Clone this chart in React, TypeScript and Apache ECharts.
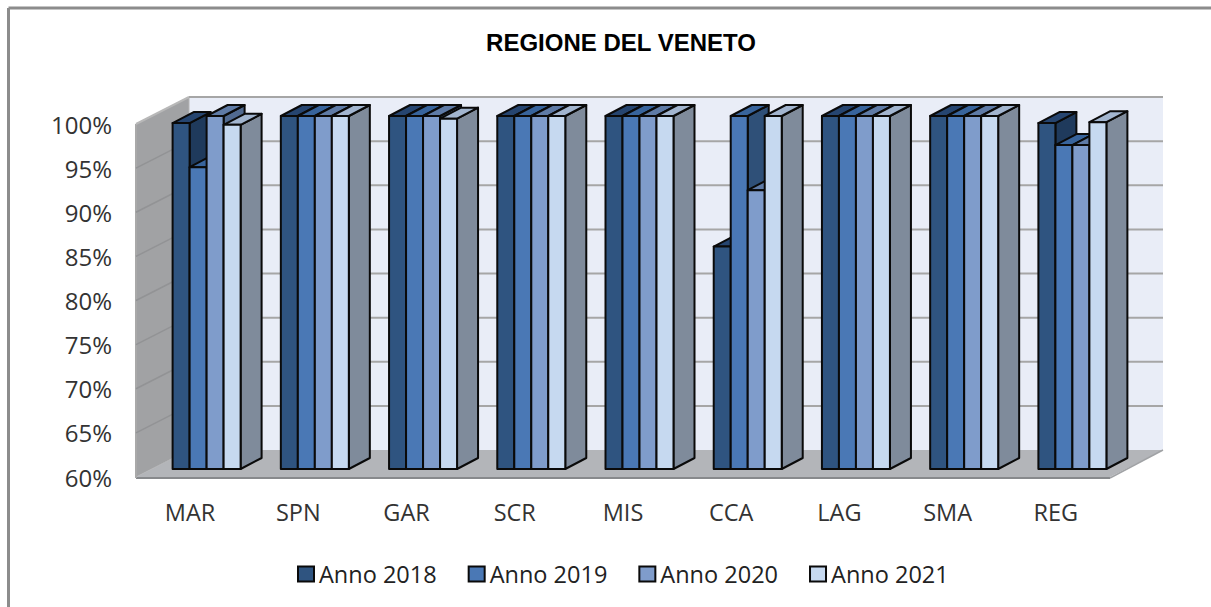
import React, { useEffect, useRef } from "react";
import * as echarts from "echarts";

const categories = ["MAR", "SPN", "GAR", "SCR", "MIS", "CCA", "LAG", "SMA", "REG"];
const seriesNames = ["Anno 2018", "Anno 2019", "Anno 2020", "Anno 2021"];
const values2018 = [99.2, 100, 100, 100, 100, 85.2, 100, 100, 99.2];
const values2019 = [94.2, 100, 100, 100, 100, 100, 100, 100, 96.7];
const values2020 = [100, 100, 100, 100, 100, 91.6, 100, 100, 96.7];
const values2021 = [99, 100, 99.7, 100, 100, 100, 100, 100, 99.3];
const ticks = [60, 65, 70, 75, 80, 85, 90, 95, 100];

const frontColors = ["#2f5480", "#4a78b5", "#7f9ccb", "#c6d9f0"];
const topColors = ["#264570", "#38649c", "#5f7ba6", "#a2b5cf"];
const sideColors = ["#1f3a5c", "#2f5078", "#516a90", "#7f8b9b"];

// Projection offsets (px) of the pseudo-3D box
const DEPTH_X = 53;
const DEPTH_Y = -27;
const BAR_SHIFT_X = 16.5;
const BAR_SHIFT_Y = -8;
const BAR_W = 17;
const BAR_DX = 21;
const BAR_DY = -11;
const EDGE = "#0a0a0a";

function wallsRender(params: any, api: any) {
  const tick = api.value(0);
  const y = api.coord([0, tick])[1];
  const g = params.coordSys;
  const left = g.x;
  const right = g.x + g.width;
  const children: any[] = [];
  if (params.dataIndex === 0) {
    const top = g.y;
    const bottom = g.y + g.height;
    children.push(
      {
        type: "polygon",
        shape: { points: [[left + DEPTH_X, top + DEPTH_Y], [right + DEPTH_X, top + DEPTH_Y], [right + DEPTH_X, bottom + DEPTH_Y], [left + DEPTH_X, bottom + DEPTH_Y]] },
        style: { fill: "#e9edf7", stroke: "none" },
      },
      {
        type: "polygon",
        shape: { points: [[left, top], [left + DEPTH_X, top + DEPTH_Y], [left + DEPTH_X, bottom + DEPTH_Y], [left, bottom]] },
        style: { fill: "#a1a2a4", stroke: "#b5b5b5", lineWidth: 1 },
      },
      {
        type: "polygon",
        shape: { points: [[left, bottom], [left + DEPTH_X, bottom + DEPTH_Y], [right + DEPTH_X, bottom + DEPTH_Y], [right, bottom]] },
        style: { fill: "#b3b5b9", stroke: "none" },
      },
      {
        type: "line",
        shape: { x1: left, y1: bottom + 1, x2: right, y2: bottom + 1 },
        style: { stroke: "#87898c", lineWidth: 2 },
      },
      {
        type: "line",
        shape: { x1: right, y1: bottom + 1, x2: right + DEPTH_X, y2: bottom + DEPTH_Y },
        style: { stroke: "#a0a2a5", lineWidth: 1.5 },
      },
      {
        type: "line",
        shape: { x1: left, y1: top, x2: left, y2: bottom + 1 },
        style: { stroke: "#a9a9a9", lineWidth: 2 },
      },
      {
        type: "line",
        shape: { x1: left, y1: top, x2: left + DEPTH_X, y2: top + DEPTH_Y },
        style: { stroke: "#b8b8b8", lineWidth: 2 },
      }
    );
  }
  if (tick > 60) {
    children.push({
      type: "line",
      shape: { x1: left + DEPTH_X, y1: y + DEPTH_Y, x2: right + DEPTH_X, y2: y + DEPTH_Y },
      style: { stroke: "#a6a6a6", lineWidth: 2 },
    });
  }
  if (tick > 60 && tick < 100) {
    children.push({
      type: "line",
      shape: { x1: left, y1: y, x2: left + DEPTH_X, y2: y + DEPTH_Y },
      style: { stroke: "#929395", lineWidth: 1.5 },
    });
  }
  return { type: "group", children };
}

function barRender(seriesIdx: number) {
  return (_params: any, api: any) => {
    const cat = api.value(0);
    const val = api.value(1);
    const [cx, topY] = api.coord([cat, val]);
    const [, baseY] = api.coord([cat, 60]);
    const x0 = cx + BAR_SHIFT_X - 2 * BAR_W + seriesIdx * BAR_W;
    const x1 = x0 + BAR_W;
    const yt = topY + BAR_SHIFT_Y;
    const yb = baseY + BAR_SHIFT_Y;
    const border = { stroke: EDGE, lineWidth: 2, lineJoin: "round" };
    return {
      type: "group",
      children: [
        {
          type: "polygon",
          shape: { points: [[x1, yt], [x1 + BAR_DX, yt + BAR_DY], [x1 + BAR_DX, yb + BAR_DY], [x1, yb]] },
          style: { fill: sideColors[seriesIdx], ...border },
        },
        {
          type: "polygon",
          shape: { points: [[x0, yt], [x0 + BAR_DX, yt + BAR_DY], [x1 + BAR_DX, yt + BAR_DY], [x1, yt]] },
          style: { fill: topColors[seriesIdx], ...border },
        },
        {
          type: "rect",
          shape: { x: x0, y: yt, width: BAR_W, height: yb - yt },
          style: { fill: frontColors[seriesIdx], ...border },
        },
      ],
    };
  };
}

const allValues = [values2018, values2019, values2020, values2021];

export default function App() {
  const ref = useRef<HTMLDivElement>(null);
  useEffect(() => {
    const chart = echarts.init(ref.current!, undefined, { renderer: "svg" });
    const barSeries = seriesNames.map((name, s) => ({
      name,
      type: "custom",
      coordinateSystem: "cartesian2d",
      renderItem: barRender(s),
      encode: { x: 0, y: 1 },
      itemStyle: { color: frontColors[s] },
      z: 3 + s,
      data: allValues[s].map((v, i) => [i, v]),
    }));
    chart.setOption({
      animation: false,
      backgroundColor: "#ffffff",
      title: {
        text: "REGIONE DEL VENETO",
        left: 616,
        top: 25,
        textAlign: "center",
        textStyle: { fontFamily: "Liberation Sans", fontWeight: "bold", fontSize: 24, color: "#000000" },
      },
      legend: {
        data: seriesNames,
        left: 292,
        top: 557,
        itemWidth: 16,
        itemHeight: 15,
        itemGap: 31,
        icon: "rect",
        itemStyle: { borderColor: "#0a0a0a", borderWidth: 2 },
        textStyle: { fontFamily: "Open Sans", fontSize: 23.5, color: "#222222" },
      },
      grid: { left: 136, right: 101, top: 124, bottom: 130 },
      xAxis: {
        type: "category",
        data: categories,
        axisLine: { show: false },
        axisTick: { show: false },
        axisLabel: { fontFamily: "Open Sans", fontSize: 23.5, color: "#333333", margin: 23 },
      },
      yAxis: {
        type: "value",
        min: 60,
        max: 100,
        interval: 5,
        axisLine: { show: false },
        axisTick: { show: false },
        splitLine: { show: false },
        axisLabel: { fontFamily: "Open Sans", fontSize: 24, color: "#333333", margin: 24, padding: [2, 0, 0, 0], formatter: "{value}%" },
      },
      graphic: [
        { type: "line", shape: { x1: 8.5, y1: 8, x2: 1211, y2: 8 }, style: { stroke: "#8c8c8c", lineWidth: 3 }, z: 1 },
        { type: "line", shape: { x1: 8.5, y1: 8, x2: 8.5, y2: 607 }, style: { stroke: "#8c8c8c", lineWidth: 3 }, z: 1 },
      ],
      series: [
        {
          name: "walls",
          type: "custom",
          coordinateSystem: "cartesian2d",
          renderItem: wallsRender,
          encode: { y: 0 },
          z: 1,
          silent: true,
          data: ticks.map((t) => [t]),
        },
        ...barSeries,
      ],
    });
    return () => chart.dispose();
  }, []);
  return <div ref={ref} style={{ position: "fixed", left: 0, top: 0, width: 1211, height: 607 }} />;
}
